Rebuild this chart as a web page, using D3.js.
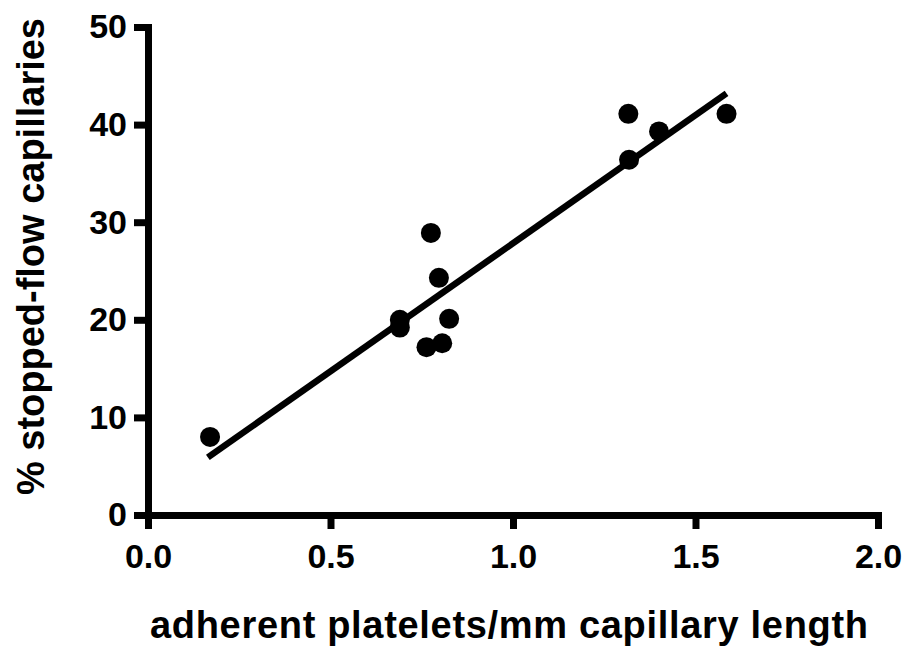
<!DOCTYPE html>
<html>
<head>
<meta charset="utf-8">
<script src="https://cdn.jsdelivr.net/npm/d3@7"></script>
<style>
  html, body { margin: 0; padding: 0; background: #fff; }
  svg { display: block; }
  text { font-family: "Liberation Sans", Arial, sans-serif; font-weight: bold; fill: #000; }
</style>
</head>
<body>
<svg id="chart" width="904" height="648"></svg>
<script>
// Platelet adhesion vs. stopped-flow capillaries
const plateletsPerMm = [0.17, 0.69, 0.69, 0.775, 0.797, 0.825, 0.763, 0.806, 1.316, 1.40, 1.318, 1.585];
const stoppedFlowPct = [8.0, 20.0, 19.2, 28.9, 24.3, 20.1, 17.2, 17.6, 41.1, 39.3, 36.4, 41.1];

// Fitted regression line endpoints
const fitX = [0.164, 1.585];
const fitY = [5.9, 43.2];

const xTicks = [0, 0.5, 1.0, 1.5, 2.0];
const yTicks = [0, 10, 20, 30, 40, 50];

const xTitle = "adherent platelets/mm capillary length";
const yTitle = "% stopped-flow capillaries";

const svg = d3.select("#chart");

const x = d3.scaleLinear().domain([0, 2]).range([148, 878]);
const y = d3.scaleLinear().domain([0, 50]).range([515, 27]);

const axisStroke = 7;

const xAxis = svg.append("g")
  .attr("transform", `translate(0,${y(0)})`)
  .call(d3.axisBottom(x).tickValues(xTicks).tickFormat(d3.format(".1f"))
    .tickSize(14).tickSizeOuter(0).tickPadding(15));

const yAxis = svg.append("g")
  .attr("transform", `translate(${x(0)},0)`)
  .call(d3.axisLeft(y).tickValues(yTicks).tickFormat(d3.format("d"))
    .tickSize(14).tickSizeOuter(0).tickPadding(7));

[xAxis, yAxis].forEach(g => {
  g.selectAll(".domain")
    .style("stroke", "#000")
    .style("stroke-width", axisStroke + "px")
    .style("stroke-linecap", "square");
  g.selectAll(".tick line")
    .style("stroke", "#000")
    .style("stroke-width", axisStroke + "px");
  g.selectAll(".tick text")
    .style("font-family", '"Liberation Sans", Arial, sans-serif')
    .style("font-weight", "bold")
    .style("font-size", "34px")
    .style("fill", "#000");
});

// regression line
const fitPts = fitX.map((v, i) => [v, fitY[i]]);
svg.append("path")
  .datum(fitPts)
  .attr("fill", "none")
  .attr("stroke", "#000")
  .attr("stroke-width", 6.5)
  .attr("d", d3.line().x(d => x(d[0])).y(d => y(d[1])));

// data points
const pts = plateletsPerMm.map((v, i) => ({ x: v, y: stoppedFlowPct[i] }));
svg.append("g").selectAll("circle")
  .data(pts)
  .join("circle")
  .attr("cx", d => x(d.x))
  .attr("cy", d => y(d.y))
  .attr("r", 10)
  .attr("fill", "#000");

// axis titles
svg.append("text")
  .attr("x", 150)
  .attr("y", 638)
  .attr("textLength", 718)
  .attr("lengthAdjust", "spacing")
  .style("font-size", "38px")
  .text(xTitle);

svg.append("text")
  .attr("transform", "translate(44,495) rotate(-90)")
  .attr("x", 0)
  .attr("y", 0)
  .attr("textLength", 477)
  .attr("lengthAdjust", "spacing")
  .style("font-size", "38px")
  .text(yTitle);
</script>
</body>
</html>
